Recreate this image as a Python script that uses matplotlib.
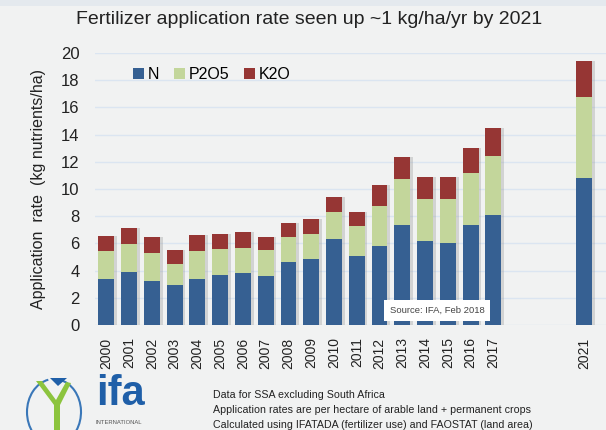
import matplotlib.pyplot as plt
from matplotlib.patches import Rectangle, Arc, Polygon

# data (kg nutrients/ha)
years = [2000, 2001, 2002, 2003, 2004, 2005, 2006, 2007, 2008, 2009,
         2010, 2011, 2012, 2013, 2014, 2015, 2016, 2017, 2021]
n_vals = [3.38, 3.92, 3.26, 2.92, 3.38, 3.70, 3.80, 3.58, 4.63, 4.83,
          6.35, 5.10, 5.81, 7.35, 6.20, 6.00, 7.35, 8.07, 10.83]
p_vals = [2.06, 2.06, 2.01, 1.57, 2.04, 1.86, 1.86, 1.96, 1.84, 1.86,
          1.96, 2.16, 2.96, 3.39, 3.04, 3.24, 3.83, 4.38, 5.91]
k_vals = [1.10, 1.17, 1.18, 1.05, 1.18, 1.11, 1.15, 0.93, 1.03, 1.08,
          1.12, 1.05, 1.50, 1.59, 1.62, 1.62, 1.86, 2.04, 2.69]
series_names = ['N', 'P2O5', 'K2O']
notes = ['Data for SSA excluding South Africa',
         'Application rates are per hectare of arable land + permanent crops',
         'Calculated using IFATADA (fertilizer use) and FAOSTAT (land area)']

plt.rcParams['font.family'] = ['Liberation Sans', 'DejaVu Sans']

bg = '#f1f2f2'
c_n, c_p, c_k = '#366092', '#c3d69b', '#963634'

fig = plt.figure(figsize=(6.06, 4.30), dpi=100)
fig.patch.set_facecolor(bg)
W, H = 606, 430

# axes placed in pixel coords: left 95, right 606, top 53, bottom 325
ax = fig.add_axes([95 / W, 1 - 325 / H, (606 - 95) / W, (325 - 53) / H])
ax.set_facecolor(bg)

bottoms_p = [a for a in n_vals]
bottoms_k = [a + b for a, b in zip(n_vals, p_vals)]
w = 0.7
# soft shadow behind the bars
tot = [a + b + c for a, b, c in zip(n_vals, p_vals, k_vals)]
ax.bar([v + 0.12 for v in years], tot, w, color='#9a9a9a', alpha=0.35, zorder=2)
ax.bar(years, n_vals, w, color=c_n, label=series_names[0], zorder=3)
ax.bar(years, p_vals, w, bottom=bottoms_p, color=c_p, label=series_names[1], zorder=3)
ax.bar(years, k_vals, w, bottom=bottoms_k, color=c_k, label=series_names[2], zorder=3)

ax.set_xlim(1999.5, 2021.95)
ax.set_ylim(0, 20)
ax.set_yticks(range(0, 21, 2))
ax.yaxis.grid(True, color='#dbe5f1', linewidth=1.0, zorder=0)
ax.set_axisbelow(True)
for s in ax.spines.values():
    s.set_visible(False)
ax.tick_params(length=0)
ax.tick_params(axis='y', labelsize=12, pad=11, colors='#222222')
ax.set_xticks(years)
ax.set_xticklabels([str(y) for y in years], rotation=90, fontsize=10, color='#222222')
ax.tick_params(axis='x', pad=9)
ax.set_ylabel('Application  rate  (kg nutrients/ha)', fontsize=11.5, color='#222222', labelpad=11)

ax.legend(loc='upper left', bbox_to_anchor=(0.046, 1.0), ncol=3, frameon=False,
          fontsize=11.5, handlelength=0.7, handleheight=0.7, handletextpad=0.25,
          columnspacing=0.9)

# source box
ax.text(2014.53, 1.07, 'Source: IFA, Feb 2018', fontsize=6.8, color='#444444', ha='center', va='center',
        bbox=dict(boxstyle='square,pad=0.6', fc='white', ec='none'), zorder=5)

fig.text(309 / W, 1 - 19 / H, 'Fertilizer application rate seen up ~1 kg/ha/yr by 2021',
         fontsize=14, ha='center', va='center', color='#222222')

# top strip
fig.patches.append(Rectangle((0, 1 - 6 / H), 1, 6 / H, transform=fig.transFigure,
                             fc='#e4e9ee', ec='none'))

# logo (approximation)
la = fig.add_axes([0, 0, 1, 1], facecolor='none')
la.set_xlim(0, W)
la.set_ylim(H, 0)
la.axis('off')
la.add_patch(Arc((54, 412), 54, 66, theta1=100, theta2=260, color='#3a77b8', lw=1.5))
la.add_patch(Arc((54, 412), 54, 66, theta1=-80, theta2=75, color='#3a77b8', lw=1.5))
la.add_patch(Polygon([[36, 381], [42, 381], [56, 400], [66, 382], [71, 383], [60, 405],
                      [60, 430], [54, 430], [54, 405]], closed=True, fc='#8cc43e', ec='none'))
la.add_patch(Polygon([[50, 378], [67, 378], [58, 386]], closed=True, fc='#1f5fa8', ec='none'))
la.text(96, 394, 'ifa', fontsize=30, fontweight='bold', color='#1f5fa8', ha='left', va='center')
la.text(96, 422, 'INTERNATIONAL', fontsize=4.2, color='#555555', ha='left', va='center')

for i, t in enumerate(notes):
    la.text(213, 395 + i * 15, t, fontsize=7.7, color='#222222', ha='left', va='center')

fig.savefig('out.png', dpi=100, facecolor=bg)
